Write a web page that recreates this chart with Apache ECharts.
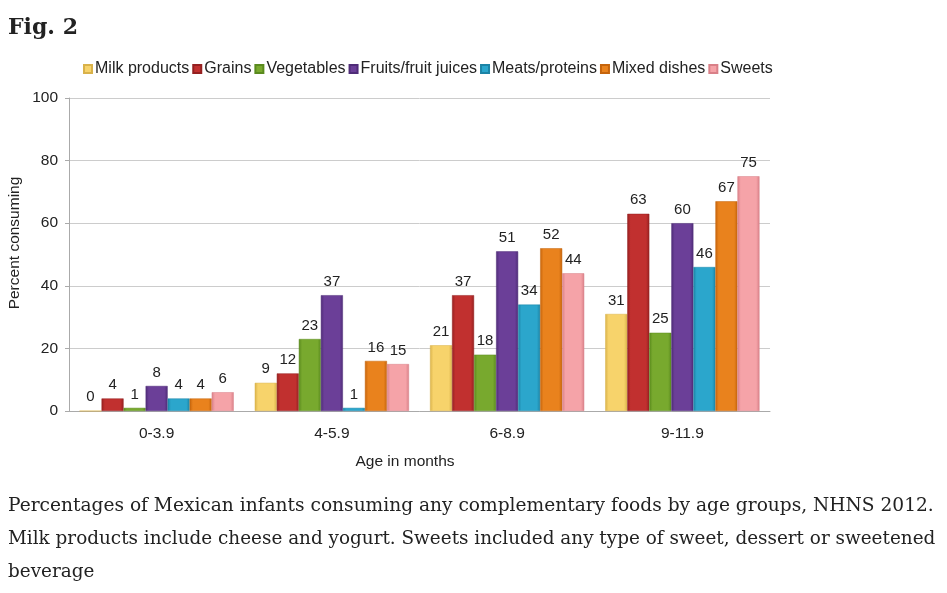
<!DOCTYPE html>
<html><head><meta charset="utf-8">
<script src="https://cdn.jsdelivr.net/npm/echarts@6/dist/echarts.min.js"></script>
<style>html,body{margin:0;padding:0;background:#fff;}#c{width:947px;height:593px;}</style>
</head><body><div id="c"></div>
<script>
const categories = ['0-3.9', '4-5.9', '6-8.9', '9-11.9'];
const seriesNames = ['Milk products', 'Grains', 'Vegetables', 'Fruits/fruit juices', 'Meats/proteins', 'Mixed dishes', 'Sweets'];
const milk = [0, 9, 21, 31];
const grains = [4, 12, 37, 63];
const vegetables = [1, 23, 18, 25];
const fruits = [8, 37, 51, 60];
const meats = [4, 1, 34, 46];
const mixed = [4, 16, 52, 67];
const sweets = [6, 15, 44, 75];
const yTicks = [0, 20, 40, 60, 80, 100];

const values = [milk, grains, vegetables, fruits, meats, mixed, sweets];
const colors = ['#f7d36b', '#c1302f', '#78a92e', '#6b3f98', '#2ba6cc', '#e9821d', '#f5a3a8'];
const dark = ['#d9b24a', '#952020', '#5a8a1e', '#4f2c78', '#1c84a6', '#c5640c', '#d98088'];
const FONT = 'Liberation Sans, Arial';

const chart = echarts.init(document.getElementById('c'), null, {renderer: 'canvas'});
const series = seriesNames.map((n, i) => ({
  name: n, type: 'bar', data: values[i], barGap: '0%', barCategoryGap: '12%',
  itemStyle: {
    color: new echarts.graphic.LinearGradient(0, 0, 1, 0, [
      {offset: 0, color: dark[i]}, {offset: 0.15, color: colors[i]},
      {offset: 0.85, color: colors[i]}, {offset: 1, color: dark[i]}]),
    borderColor: dark[i], borderWidth: 0.5
  },
  label: {show: true, position: 'top', distance: 6, color: '#222', fontSize: 15, fontFamily: FONT}
}));

chart.setOption({
  animation: false,
  color: colors,
  legend: {
    data: seriesNames, top: 56, left: 78, itemWidth: 8, itemHeight: 8, itemGap: 3,
    icon: 'rect',
    textStyle: {fontSize: 16, color: '#222', fontFamily: FONT, padding: [0, 0, 0, -2]}
  },
  grid: {left: 69, right: 177, top: 98, bottom: 182, containLabel: false},
  xAxis: {
    type: 'category', data: categories,
    axisLine: {lineStyle: {color: '#aaa'}}, axisTick: {show: false},
    axisLabel: {fontSize: 15.5, color: '#222', margin: 15, fontFamily: FONT}
  },
  yAxis: {
    type: 'value', min: yTicks[0], max: yTicks[yTicks.length - 1], interval: 20,
    axisLine: {show: true, lineStyle: {color: '#aaa'}}, axisTick: {show: true, length: 4, lineStyle: {color: '#aaa'}},
    axisLabel: {fontSize: 15.5, color: '#222', margin: 11, fontFamily: FONT},
    splitLine: {lineStyle: {color: '#ccc'}}
  },
  graphic: [
    {type: 'text', left: 8, top: 17, style: {text: 'Fig. 2', font: 'bold 22px "DejaVu Serif", serif', fill: '#222'}},
    {type: 'text', x: 15, y: 243, rotation: Math.PI / 2, style: {text: 'Percent consuming', font: '15.5px ' + FONT, fill: '#222', align: 'center', verticalAlign: 'middle'}},
    {type: 'text', x: 405, y: 462, style: {text: 'Age in months', font: '15.5px ' + FONT, fill: '#222', align: 'center', verticalAlign: 'middle'}},
    {type: 'text', left: 8, top: 497, style: {text: 'Percentages of Mexican infants consuming any complementary foods by age groups, NHNS 2012.', font: '18.6px "DejaVu Serif", serif', fill: '#222'}},
    {type: 'text', left: 8, top: 530, style: {text: 'Milk products include cheese and yogurt. Sweets included any type of sweet, dessert or sweetened', font: '18.4px "DejaVu Serif", serif', fill: '#222'}},
    {type: 'text', left: 8, top: 563, style: {text: 'beverage', font: '18.4px "DejaVu Serif", serif', fill: '#222'}}
  ],
  series: series
});
</script></body></html>
